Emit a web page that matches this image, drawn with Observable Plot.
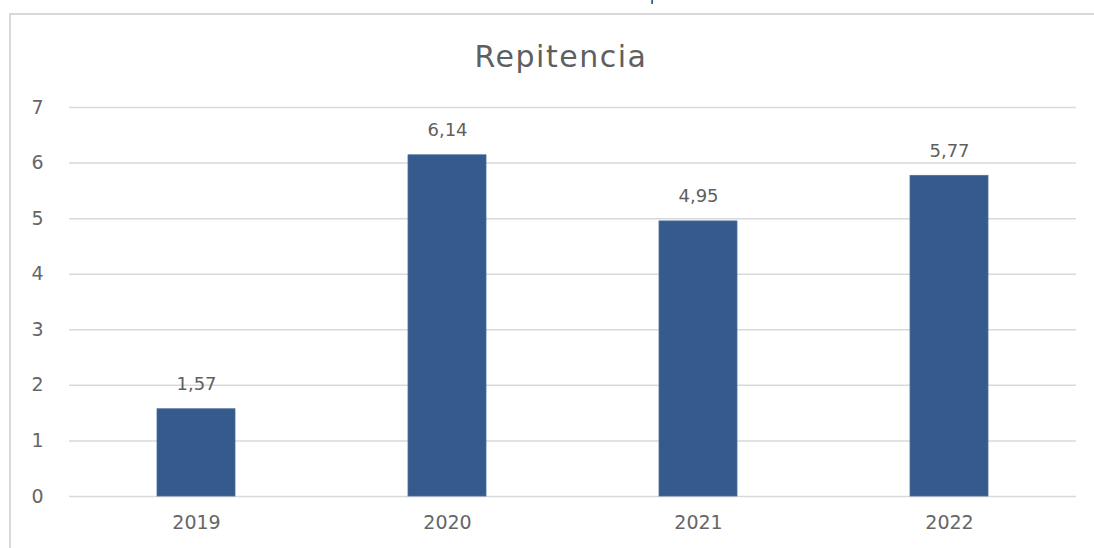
<!DOCTYPE html>
<html><head><meta charset="utf-8">
<script src="https://cdn.jsdelivr.net/npm/d3@7"></script>
<script src="https://cdn.jsdelivr.net/npm/@observablehq/plot@0.6"></script>
<style>
html,body{margin:0;padding:0;background:#fff;width:1094px;height:548px;overflow:hidden;font-family:"DejaVu Sans",sans-serif;}
#frame{position:absolute;left:9px;top:13px;width:1200px;height:600px;border-left:2px solid #d9d9d9;border-top:2px solid #d9d9d9;}
#title{position:absolute;left:0;width:1122px;top:38px;text-align:center;font-size:30px;line-height:38px;color:#5f5f5f;letter-spacing:1.5px;}
#frag{position:absolute;left:650px;top:-14px;font-family:"Open Sans",sans-serif;font-size:16px;line-height:16px;color:#222;}
#chart{position:absolute;left:0;top:0;}
</style></head>
<body>
<div id="frag">p</div>
<div id="frame"></div>
<div id="title">Repitencia</div>
<div id="chart"></div>
<script>
const years = ["2019","2020","2021","2022"];
const values = [1.57, 6.14, 4.95, 5.77];
const yTicks = [0,1,2,3,4,5,6,7];
const data = years.map((y,i)=>({year:y, value:values[i]}));
const fmt = d => d.toFixed(2).replace(".", ",");
const chart = Plot.plot({
  width:1094, height:548,
  marginTop:107, marginBottom:52, marginLeft:69, marginRight:18,
  style:{fontFamily:"'DejaVu Sans',sans-serif", color:"#666666", background:"transparent"},
  x:{domain:years, paddingInner:0.69, paddingOuter:0.345},
  y:{domain:[0,7]},
  marks:[
    Plot.gridY(yTicks, {stroke:"#d9d9d9", strokeOpacity:1, strokeWidth:1.5}),
    Plot.axisY(yTicks, {label:null, tickSize:0, tickPadding:26, fontSize:19, fill:"#666666", tickFormat:d=>String(d)}),
    Plot.axisX(years, {label:null, tickSize:0, tickPadding:19, fontSize:19, fill:"#666666", style:{letterSpacing:"1.5px"}}),
    Plot.barY(data, {x:"year", y:"value", fill:"#345b8c", stroke:"#4a6f9c", strokeWidth:0.8}),
    Plot.text(data, {x:"year", y:"value", text:d=>fmt(d.value), dy:-25, fontSize:18, fill:"#5f5f5f", style:{letterSpacing:"2.5px"}})
  ]
});
document.getElementById("chart").appendChild(chart);
</script>
</body></html>
